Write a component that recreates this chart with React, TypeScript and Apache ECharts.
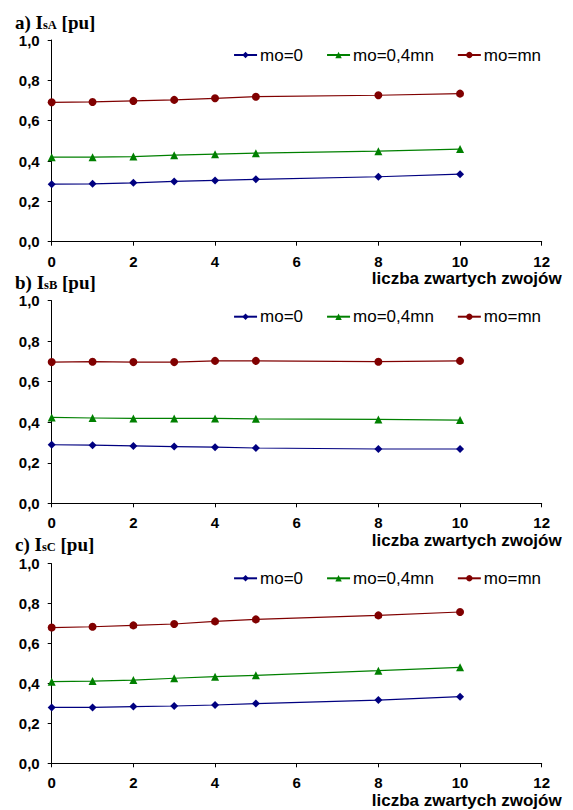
import React, { useEffect, useRef } from "react";
import * as echarts from "echarts";

const xVals = [0, 1, 2, 3, 4, 5, 8, 10];
const seriesNames = ["mo=0", "mo=0,4mn", "mo=mn"];
const xTicks = [0, 2, 4, 6, 8, 10, 12];
const yTicks = ["0,0", "0,2", "0,4", "0,6", "0,8", "1,0"];

const A_mo0 = [0.285, 0.287, 0.292, 0.299, 0.304, 0.309, 0.322, 0.335];
const A_mo04 = [0.419, 0.419, 0.422, 0.429, 0.434, 0.439, 0.449, 0.459];
const A_mon = [0.691, 0.693, 0.698, 0.703, 0.711, 0.719, 0.726, 0.734];

const B_mo0 = [0.289, 0.287, 0.283, 0.28, 0.277, 0.273, 0.268, 0.268];
const B_mo04 = [0.424, 0.421, 0.419, 0.419, 0.419, 0.417, 0.414, 0.411];
const B_mon = [0.697, 0.699, 0.697, 0.697, 0.703, 0.703, 0.699, 0.703];

const C_mo0 = [0.28, 0.28, 0.284, 0.287, 0.292, 0.299, 0.317, 0.334];
const C_mo04 = [0.409, 0.412, 0.417, 0.426, 0.434, 0.441, 0.464, 0.481];
const C_mon = [0.68, 0.684, 0.691, 0.698, 0.711, 0.721, 0.741, 0.758];

const panels = [
  { label: "a) I", sub: "sA", values: [A_mo0, A_mo04, A_mon] },
  { label: "b) I", sub: "sB", values: [B_mo0, B_mo04, B_mon] },
  { label: "c) I", sub: "sC", values: [C_mo0, C_mo04, C_mon] },
];

const colors = ["#000080", "#008000", "#800000"];
const symbols = ["diamond", "triangle", "circle"];
const symbolSizes = [8, 8, 8];

// layout (pixels)
const gridTops = [40, 300.7, 563.7];
const gridHeights = [201.7, 202.6, 199.6];
const gridLeft = 51.7;
const gridRight = 31.3;

export default function App() {
  const ref = useRef<HTMLDivElement>(null);

  useEffect(() => {
    if (!ref.current) return;
    const chart = echarts.init(ref.current, null, { renderer: "svg" });

    const grids = gridTops.map((t, i) => ({
      left: gridLeft,
      right: gridRight,
      top: t,
      height: gridHeights[i],
    }));

    const xAxes = gridTops.map((_, i) => ({
      type: "value",
      gridIndex: i,
      min: xTicks[0],
      max: xTicks[xTicks.length - 1],
      interval: 2,
      axisLine: { show: true, lineStyle: { color: "#000", width: 1 } },
      axisTick: { show: true, length: 4, lineStyle: { color: "#000" } },
      splitLine: { show: false },
      axisLabel: {
        margin: 12,
        color: "#000",
        fontFamily: "Arial, 'Liberation Sans', sans-serif",
        fontWeight: "bold",
        fontSize: 15,
      },
    }));

    const yAxes = gridTops.map((_, i) => ({
      type: "value",
      gridIndex: i,
      min: 0,
      max: 1,
      interval: 0.2,
      axisLine: { show: true, lineStyle: { color: "#000", width: 1 } },
      axisTick: { show: true, length: 4, lineStyle: { color: "#000" } },
      splitLine: { show: false },
      axisLabel: {
        margin: 12,
        color: "#000",
        fontFamily: "Arial, 'Liberation Sans', sans-serif",
        fontWeight: "bold",
        fontSize: 15,
        lineHeight: 12,
        formatter: (v: number) => yTicks[Math.round(v / 0.2)],
      },
    }));

    const series: any[] = [];
    panels.forEach((p, gi) => {
      p.values.forEach((vals, si) => {
        series.push({
          type: "line",
          name: seriesNames[si],
          xAxisIndex: gi,
          yAxisIndex: gi,
          data: xVals.map((x, k) => [x, vals[k]]),
          symbol: symbols[si],
          symbolSize: symbolSizes[si],
          showSymbol: true,
          lineStyle: { color: colors[si], width: 1.2 },
          itemStyle: { color: colors[si] },
          emphasis: { disabled: true },
        });
      });
    });

    const legendCenters = [50, 311.7, 573.3];
    const legends = legendCenters.map((c) => ({
      data: seriesNames,
      right: 27,
      top: c - 9,
      itemWidth: 23,
      itemHeight: 8,
      itemGap: 23,
      selectedMode: false,
      textStyle: {
        fontFamily: "Arial, 'Liberation Sans', sans-serif",
        fontSize: 17,
        color: "#000",
        lineHeight: 18,
        padding: [0, 0, 0, -2],
      },
    }));

    const titleBaselines = [28.6, 288.8, 551.2];
    const axisTitleBaselines = [284.3, 545.9, 806];

    const graphic: any[] = [];
    panels.forEach((p, i) => {
      graphic.push({
        type: "text",
        x: 15,
        y: titleBaselines[i] - 6.4,
        style: {
          text: `{m|${p.label}}{s|${p.sub}}{m| [pu]}`,
          verticalAlign: "middle",
          align: "left",
          fill: "#000",
          rich: {
            m: {
              fontFamily: "'Times New Roman', 'Liberation Serif', serif",
              fontWeight: "bold",
              fontSize: 19,
              lineHeight: 18,
              fill: "#000",
            },
            s: {
              fontFamily: "'Times New Roman', 'Liberation Serif', serif",
              fontWeight: "bold",
              fontSize: 12.5,
              lineHeight: 13,
              verticalAlign: "bottom",
              fill: "#000",
            },
          },
        },
      });
      graphic.push({
        type: "text",
        x: 561.7,
        y: axisTitleBaselines[i] - 5.9,
        style: {
          text: "liczba zwartych zwojów",
          align: "right",
          verticalAlign: "middle",
          fontFamily: "Arial, 'Liberation Sans', sans-serif",
          fontWeight: "bold",
          fontSize: 17,
          fill: "#000",
        },
      });
    });

    chart.setOption({
      animation: false,
      backgroundColor: "#fff",
      grid: grids,
      xAxis: xAxes,
      yAxis: yAxes,
      legend: legends,
      series,
      graphic,
    });

    return () => chart.dispose();
  }, []);

  return (
    <div
      ref={ref}
      style={{ position: "absolute", left: 0, top: 0, width: 573, height: 810 }}
    />
  );
}
